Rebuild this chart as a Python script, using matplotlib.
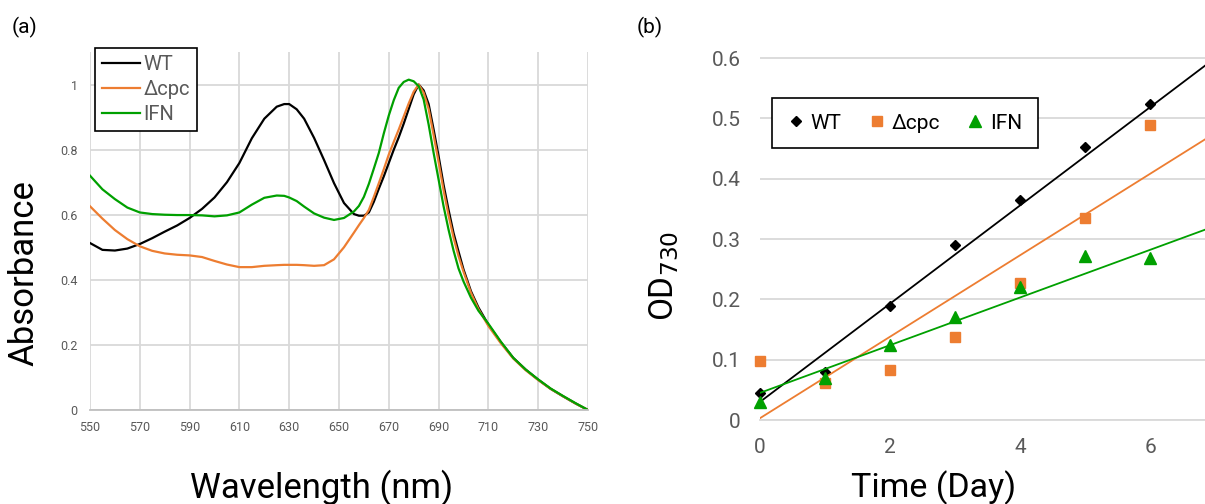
import matplotlib
matplotlib.use('Agg')
import matplotlib.pyplot as plt
import numpy as np

plt.rcParams['font.family'] = ['Roboto', 'DejaVu Sans']

# (a) absorbance spectra
wavelength = [550, 555, 560, 565, 570, 575, 580, 585, 590, 595, 600, 605, 610, 615, 620,
              625, 628, 630, 633, 636, 640, 644, 648, 652, 656, 658, 660, 662, 664, 666,
              668, 670, 672, 674, 676, 678, 680, 682, 684, 686, 688, 690, 692, 694, 696,
              698, 700, 703, 706, 710, 715, 720, 725, 730, 735, 740, 745, 750]
abs_wt = [0.513, 0.492, 0.490, 0.496, 0.510, 0.528, 0.548, 0.567, 0.590, 0.618, 0.653, 0.700,
          0.759, 0.835, 0.895, 0.932, 0.940, 0.940, 0.924, 0.895, 0.836, 0.768, 0.697, 0.636,
          0.602, 0.597, 0.597, 0.607, 0.640, 0.680, 0.718, 0.759, 0.800, 0.838, 0.880, 0.925,
          0.970, 1.000, 0.982, 0.940, 0.862, 0.780, 0.692, 0.615, 0.544, 0.487, 0.432, 0.365,
          0.315, 0.262, 0.208, 0.160, 0.124, 0.093, 0.065, 0.042, 0.020, 0.0]
abs_cpc = [0.626, 0.588, 0.553, 0.525, 0.503, 0.489, 0.481, 0.477, 0.475, 0.470, 0.458, 0.447,
           0.439, 0.439, 0.443, 0.445, 0.446, 0.446, 0.446, 0.445, 0.443, 0.445, 0.463, 0.500,
           0.545, 0.568, 0.590, 0.615, 0.655, 0.697, 0.740, 0.785, 0.824, 0.862, 0.902, 0.942,
           0.978, 1.000, 0.975, 0.925, 0.845, 0.762, 0.675, 0.598, 0.530, 0.473, 0.425, 0.360,
           0.310, 0.258, 0.205, 0.158, 0.122, 0.092, 0.065, 0.042, 0.020, 0.0]
abs_ifn = [0.720, 0.678, 0.648, 0.622, 0.607, 0.602, 0.600, 0.599, 0.599, 0.598, 0.595, 0.598,
           0.607, 0.631, 0.652, 0.659, 0.658, 0.653, 0.642, 0.625, 0.604, 0.591, 0.584, 0.590,
           0.610, 0.627, 0.655, 0.695, 0.742, 0.790, 0.850, 0.905, 0.952, 0.990, 1.008, 1.015,
           1.010, 0.995, 0.954, 0.877, 0.790, 0.708, 0.626, 0.554, 0.490, 0.435, 0.395, 0.345,
           0.305, 0.265, 0.210, 0.160, 0.124, 0.094, 0.066, 0.043, 0.021, 0.0]

# (b) growth
days = [0, 1, 2, 3, 4, 5, 6]
od_wt = [0.045, 0.080, 0.189, 0.290, 0.364, 0.452, 0.523]
od_cpc = [0.097, 0.062, 0.083, 0.137, 0.227, 0.334, 0.489]
od_ifn = [0.030, 0.070, 0.125, 0.170, 0.220, 0.272, 0.268]
# linear trendlines (intercept, slope) as drawn
trend_wt = (0.030, 0.0814)
trend_cpc = (0.003, 0.0675)
trend_ifn = (0.045, 0.0395)

labels = ['WT', 'Δcpc', 'IFN']
colors = ['black', '#ED7D31', '#00A000']
grid_c = '#d9d9d9'
tick_c = '#595959'

W, H = 1205, 504
fig = plt.figure(figsize=(W / 100, H / 100), dpi=100)

# ---- panel (a)
ax1 = fig.add_axes([90 / W, 1 - 410 / H, (588 - 90) / W, (410 - 52) / H])
for y, c, lab in zip([abs_wt, abs_cpc, abs_ifn], colors, labels):
    ax1.plot(wavelength, y, color=c, lw=1.6, label=lab)
ax1.set_xlim(550, 750)
ax1.set_ylim(0, 1.1)
ax1.set_xticks(np.arange(550, 751, 20))
ax1.set_yticks([0, 0.2, 0.4, 0.6, 0.8, 1.0])
ax1.set_yticklabels(['0', '0.2', '0.4', '0.6', '0.8', '1'])
ax1.grid(True, color=grid_c, lw=1.3)
ax1.set_axisbelow(True)
for s in ['top', 'right', 'left']:
    ax1.spines[s].set_visible(False)
ax1.spines['bottom'].set_color('#bfbfbf')
ax1.spines['bottom'].set_linewidth(1.3)
ax1.tick_params(length=0, labelsize=9, colors=tick_c)
ax1.tick_params(axis='x', pad=8)
ax1.tick_params(axis='y', pad=9)
leg1 = ax1.legend(loc='upper left', bbox_to_anchor=(95 / W, 1 - 48 / H),
                  bbox_transform=fig.transFigure, borderaxespad=0, fancybox=False,
                  framealpha=1, edgecolor='black', fontsize=14.5, handlelength=1.9,
                  handletextpad=0.15, labelspacing=0.3, borderpad=0.35, labelcolor=tick_c)
leg1.get_frame().set_linewidth(1.2)

fig.text(322 / W, 1 - 488 / H, 'Wavelength (nm)', fontsize=25, ha='center', va='center')
fig.text(24 / W, 1 - 273 / H, 'Absorbance', fontsize=25, ha='center', va='center',
         rotation=90)
fig.text(12 / W, 1 - 27 / H, '(a)', fontsize=15, ha='left', va='center')

# ---- panel (b)
ax2 = fig.add_axes([760 / W, 1 - 420 / H, (W - 760) / W, (420 - 55) / H])
xmax = (W - 760) / 65.0
markers = ['D', 's', '^']
msizes = [5.5, 6.5, 8.5]
trend_x = np.array([0, xmax])
for y, tr, c, m, ms, lab in zip([od_wt, od_cpc, od_ifn], [trend_wt, trend_cpc, trend_ifn],
                                colors, markers, msizes, labels):
    ax2.plot(trend_x, tr[0] + tr[1] * trend_x, color=c, lw=1.3)
    ax2.plot(days, y, ls='none', marker=m, ms=ms, color=c, mec=c, label=lab, clip_on=False)
ax2.set_xlim(0, xmax)
ax2.set_ylim(0, 0.605)
ax2.set_xticks([0, 2, 4, 6])
ax2.set_yticks([0, 0.1, 0.2, 0.3, 0.4, 0.5, 0.6])
ax2.set_yticklabels(['0', '0.1', '0.2', '0.3', '0.4', '0.5', '0.6'])
ax2.grid(True, axis='y', color=grid_c, lw=1.3)
ax2.set_axisbelow(True)
for s in ['top', 'right', 'left']:
    ax2.spines[s].set_visible(False)
ax2.spines['bottom'].set_color(grid_c)
ax2.spines['bottom'].set_linewidth(1.3)
ax2.tick_params(length=0, labelsize=15, colors=tick_c)
ax2.tick_params(axis='x', pad=13)
ax2.tick_params(axis='y', pad=14)
leg2 = ax2.legend(loc='upper left', bbox_to_anchor=(772 / W, 1 - 98 / H),
                  bbox_transform=fig.transFigure, borderaxespad=0, fancybox=False,
                  framealpha=1, edgecolor='black', fontsize=15, ncol=3, handlelength=0.8,
                  handletextpad=0.3, columnspacing=1.3, borderpad=0.75)
leg2.get_frame().set_linewidth(1.2)

fig.text(934 / W, 1 - 488 / H, 'Time (Day)', fontsize=24.5, ha='center', va='center')
fig.text(664 / W, 1 - 276 / H, r'OD$_{730}$', fontsize=24, ha='center', va='center',
         rotation=90)
fig.text(637 / W, 1 - 27 / H, '(b)', fontsize=15, ha='left', va='center')

fig.savefig('out.png', dpi=100)
